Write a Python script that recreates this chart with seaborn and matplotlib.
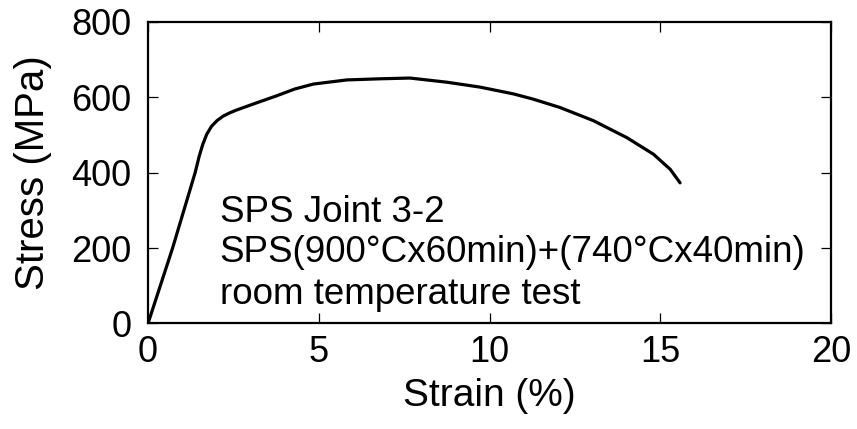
import matplotlib
matplotlib.use("Agg")
import matplotlib.pyplot as plt
import seaborn as sns
import pandas as pd

# Tensile test curve of the SPS joint
strain = [0, 0.72, 1.38, 1.5, 1.6, 1.72, 1.86, 2.02, 2.2, 2.4, 2.59, 3.08, 3.77,
          4.3, 4.84, 5.82, 6.79, 7.67, 8.75, 9.72, 10.7, 11.28, 12.06, 13.04,
          14.02, 14.8, 15.29, 15.58]
stress = [0, 200, 400, 444, 474, 502, 523, 538, 550, 559, 566, 582, 604,
          622, 635, 646, 649, 651, 640, 627, 609, 595, 573, 538,
          493, 449, 409, 373]

x_ticks = [0, 5, 10, 15, 20]
y_ticks = [0, 200, 400, 600, 800]

notes = ["SPS Joint 3-2",
         "SPS(900°Cx60min)+(740°Cx40min)",
         "room temperature test"]

sns.set_style("ticks")
plt.rcParams["font.family"] = ["Liberation Sans", "DejaVu Sans"]
plt.rcParams["text.color"] = "black"
plt.rcParams["axes.labelcolor"] = "black"
plt.rcParams["xtick.color"] = "black"
plt.rcParams["ytick.color"] = "black"

df = pd.DataFrame({"Strain (%)": strain, "Stress (MPa)": stress})

fig = plt.figure(figsize=(8.57, 4.29), dpi=100)
ax = fig.add_axes([0.1727, 0.246, 0.797, 0.703])

sns.lineplot(data=df, x="Strain (%)", y="Stress (MPa)", ax=ax,
             color="black", linewidth=2.3, sort=False, estimator=None)

ax.set_xlim(0, 20)
ax.set_ylim(0, 800)
ax.set_xticks(x_ticks)
ax.set_yticks(y_ticks)
ax.set_xticklabels([str(t) for t in x_ticks])
ax.set_yticklabels([str(t) for t in y_ticks])

ax.tick_params(axis="both", direction="in", length=7, width=0.9,
               labelsize=26, top=True, right=True, color="black",
               labelcolor="black")
ax.tick_params(axis="x", pad=8)
ax.tick_params(axis="y", pad=12)

for s in ax.spines.values():
    s.set_visible(True)
    s.set_linewidth(1.6)
    s.set_color("black")

ax.set_xlabel("Strain (%)", fontsize=28, labelpad=6, color="black")
ax.set_ylabel("Stress (MPa)", fontsize=29, labelpad=14, color="black")

for txt, y in zip(notes, [270, 163, 51]):
    ax.text(2.1, y, txt, fontsize=26.5, ha="left", va="baseline", color="black")

fig.savefig("out.png", dpi=100)
